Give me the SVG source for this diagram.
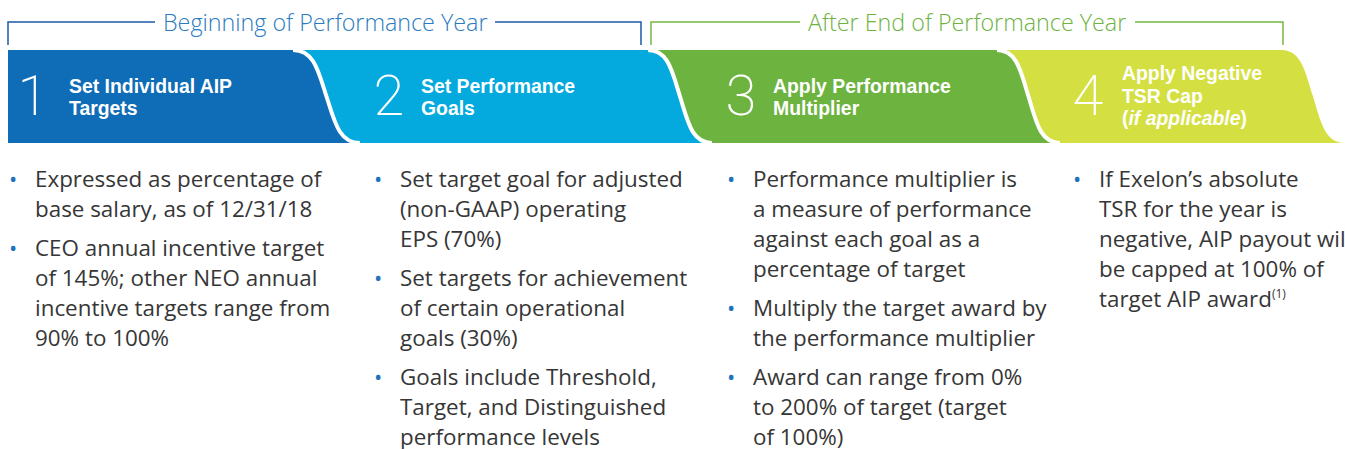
<svg xmlns="http://www.w3.org/2000/svg" width="1345" height="449" viewBox="0 0 1345 449">
<style>
.hdr{font-family:"Open Sans","Liberation Sans",sans-serif;font-size:23.3px;font-weight:300}
.num{font-family:"Roboto","Open Sans",sans-serif;font-size:56px;font-weight:200;fill:#fff;text-anchor:middle}
.ttl{font-family:"Liberation Sans",Arial,sans-serif;font-size:19.4px;font-weight:bold;fill:#fff}
.body{font-family:"Open Sans","Liberation Sans",sans-serif;font-size:22.4px;font-weight:400;fill:#363636}
.bul{font-family:"Open Sans","Liberation Sans",sans-serif;font-size:22px;fill:#1d74bd}
.sep{fill:none;stroke:#fff;stroke-width:4}
</style>
<rect width="1345" height="449" fill="#fff"/>
<g id="connectors">
  <path d="M8,45 L8,22 L155,22 M495,22 L641,22 L641,45" fill="none" stroke="#1f5aa5" stroke-width="1.5"/>
  <path d="M651,45 L651,22 L800,22 M1135,22 L1283,22 L1283,45" fill="none" stroke="#76b843" stroke-width="1.5"/>
  <text class="hdr" x="163" y="30.5" fill="#2b7bc0">Beginning of Performance Year</text>
  <text class="hdr" x="808" y="30.5" fill="#6db33f">After End of Performance Year</text>
</g>
<g id="step1">
  <path d="M8,50 L293,50 C314.4,50 318.5,72 326.5,96.5 C334.5,121 338.6,143 360,143 L8,143 Z" fill="#0f6cb6"/>
  <text class="num" x="33" y="115">1</text>
  <text class="ttl" x="69" y="93">Set Individual AIP</text>
  <text class="ttl" x="69" y="115">Targets</text>
  <text class="bul" x="9" y="187">•</text>
  <text class="body" x="35" y="187">Expressed as percentage of</text>
  <text class="body" x="35" y="217">base salary, as of 12/31/18</text>
  <text class="bul" x="9" y="256">•</text>
  <text class="body" x="35" y="256">CEO annual incentive target</text>
  <text class="body" x="35" y="286">of 145%; other NEO annual</text>
  <text class="body" x="35" y="316">incentive targets range from</text>
  <text class="body" x="35" y="346">90% to 100%</text>
</g>
<g id="step2">
  <path d="M293,50 L648,50 C668.5,50 672.3,72 680,96.5 C687.7,121 691.5,143 712,143 L360,143 C338.6,143 334.5,121 326.5,96.5 C318.5,72 314.4,50 293,50 Z" fill="#04a9dd"/>
  <text class="num" x="389" y="115">2</text>
  <text class="ttl" x="421" y="93">Set Performance</text>
  <text class="ttl" x="421" y="115">Goals</text>
  <text class="bul" x="374" y="187">•</text>
  <text class="body" x="400" y="187">Set target goal for adjusted</text>
  <text class="body" x="400" y="217">(non-GAAP) operating</text>
  <text class="body" x="400" y="247">EPS (70%)</text>
  <text class="bul" x="374" y="286">•</text>
  <text class="body" x="400" y="286">Set targets for achievement</text>
  <text class="body" x="400" y="316">of certain operational</text>
  <text class="body" x="400" y="346">goals (30%)</text>
  <text class="bul" x="374" y="385">•</text>
  <text class="body" x="400" y="385">Goals include Threshold,</text>
  <text class="body" x="400" y="415">Target, and Distinguished</text>
  <text class="body" x="400" y="445">performance levels</text>
</g>
<g id="step3">
  <path d="M648,50 L997,50 C1017.2,50 1020.9,72 1028.5,96.5 C1036.1,121 1039.8,143 1060,143 L712,143 C691.5,143 687.7,121 680,96.5 C672.3,72 668.5,50 648,50 Z" fill="#6db33f"/>
  <text class="num" x="741" y="115">3</text>
  <text class="ttl" x="773" y="93">Apply Performance</text>
  <text class="ttl" x="773" y="115">Multiplier</text>
  <text class="bul" x="727" y="187">•</text>
  <text class="body" x="753" y="187">Performance multiplier is</text>
  <text class="body" x="753" y="217">a measure of performance</text>
  <text class="body" x="753" y="247">against each goal as a</text>
  <text class="body" x="753" y="277">percentage of target</text>
  <text class="bul" x="727" y="316">•</text>
  <text class="body" x="753" y="316">Multiply the target award by</text>
  <text class="body" x="753" y="346">the performance multiplier</text>
  <text class="bul" x="727" y="385">•</text>
  <text class="body" x="753" y="385">Award can range from 0%</text>
  <text class="body" x="753" y="415">to 200% of target (target</text>
  <text class="body" x="753" y="445">of 100%)</text>
</g>
<g id="step4">
  <path d="M997,50 L1281,50 C1301.5,50 1305.3,72 1313,96.5 C1320.7,121 1324.5,143 1345,143 L1060,143 C1039.8,143 1036.1,121 1028.5,96.5 C1020.9,72 1017.2,50 997,50 Z" fill="#d4df41"/>
  <text class="num" x="1088" y="115">4</text>
  <text class="ttl" x="1122" y="80">Apply Negative</text>
  <text class="ttl" x="1122" y="102.5">TSR Cap</text>
  <text class="ttl" x="1122" y="125">(<tspan font-style="italic">if applicable</tspan>)</text>
  <text class="bul" x="1073" y="187">•</text>
  <text class="body" x="1099" y="187">If Exelon’s absolute</text>
  <text class="body" x="1099" y="217">TSR for the year is</text>
  <text class="body" x="1099" y="247">negative, AIP payout will</text>
  <text class="body" x="1099" y="277">be capped at 100% of</text>
  <text class="body" x="1099" y="307">target AIP award<tspan font-size="12" dy="-9">(1)</tspan></text>
</g>
<g id="separators">
  <path class="sep" d="M293,50 C314.4,50 318.5,72 326.5,96.5 C334.5,121 338.6,143 360,143"/>
  <path class="sep" d="M648,50 C668.5,50 672.3,72 680,96.5 C687.7,121 691.5,143 712,143"/>
  <path class="sep" d="M997,50 C1017.2,50 1020.9,72 1028.5,96.5 C1036.1,121 1039.8,143 1060,143"/>
</g>
</svg>
